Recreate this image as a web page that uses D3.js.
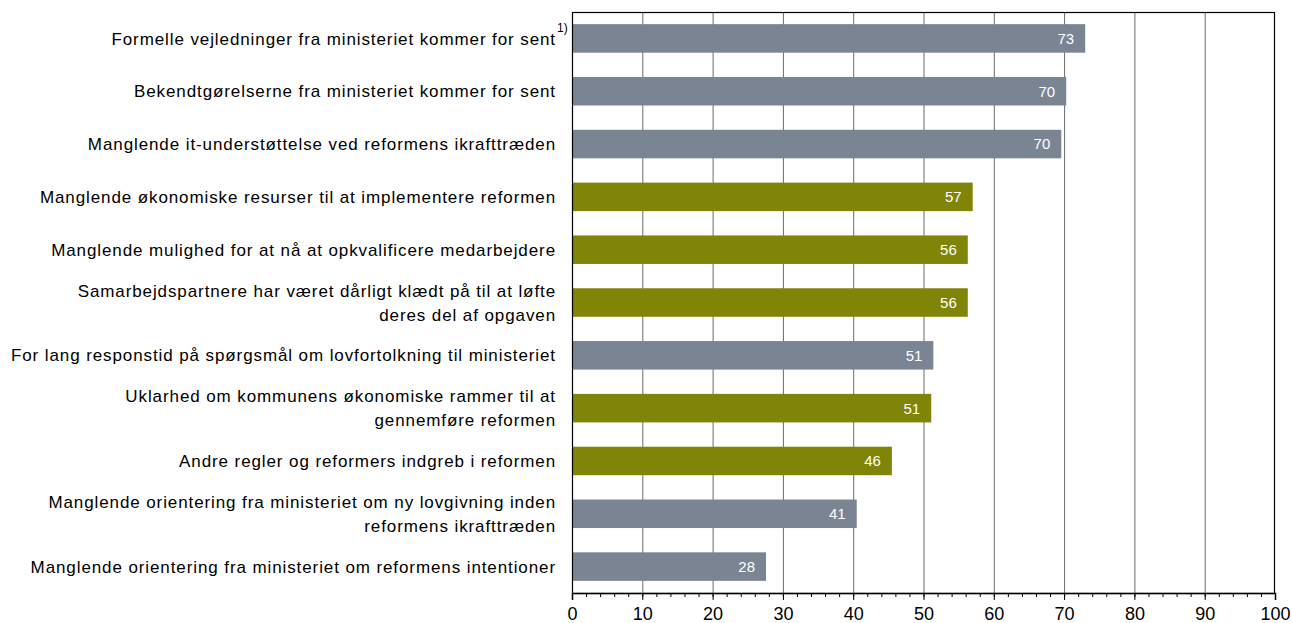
<!DOCTYPE html>
<html><head><meta charset="utf-8">
<script src="https://cdn.jsdelivr.net/npm/d3@7"></script>
<style>body{margin:0;background:#fff;} text{font-family:"Liberation Sans",Arial,sans-serif;}</style>
</head><body><svg id="c" width="1292" height="623"></svg>
<script>
const categories = [
  ["Formelle vejledninger fra ministeriet kommer for sent"],
  ["Bekendtgørelserne fra ministeriet kommer for sent"],
  ["Manglende it-understøttelse ved reformens ikrafttræden"],
  ["Manglende økonomiske resurser til at implementere reformen"],
  ["Manglende mulighed for at nå at opkvalificere medarbejdere"],
  ["Samarbejdspartnere har været dårligt klædt på til at løfte", "deres del af opgaven"],
  ["For lang responstid på spørgsmål om lovfortolkning til ministeriet"],
  ["Uklarhed om kommunens økonomiske rammer til at", "gennemføre reformen"],
  ["Andre regler og reformers indgreb i reformen"],
  ["Manglende orientering fra ministeriet om ny lovgivning inden", "reformens ikrafttræden"],
  ["Manglende orientering fra ministeriet om reformens intentioner"]
];
const values = [73.0, 70.3, 69.6, 57.0, 56.3, 56.3, 51.4, 51.1, 45.5, 40.5, 27.6];
const valueLabels = ["73", "70", "70", "57", "56", "56", "51", "51", "46", "41", "28"];
const groups = ["a", "a", "a", "b", "b", "b", "a", "b", "b", "a", "a"];
const footnotes = ["1)", "", "", "", "", "", "", "", "", "", ""];
const xTicks = [0, 10, 20, 30, 40, 50, 60, 70, 80, 90, 100];
const minorTicks = d3.range(0, 101, 2);

const colors = {a: "#7b8493", b: "#808507"};
const svg = d3.select("#c");
const L = 572, R = 1275, T = 12, B = 593;
const x = d3.scaleLinear().domain([0, 100]).range([L, R]);
const y = d3.scaleBand().domain(d3.range(values.length)).range([T, B]).paddingInner(0.46).paddingOuter(0.23);

// gridlines
svg.append("g").selectAll("line").data(xTicks.slice(1, -1)).join("line")
  .attr("x1", d => x(d) + 0.5).attr("x2", d => x(d) + 0.5)
  .attr("y1", T).attr("y2", B).attr("stroke", "#6a6a6a").attr("stroke-width", 1);

// bars
svg.append("g").selectAll("rect").data(values).join("rect")
  .attr("x", x(0)).attr("y", (d, i) => y(i))
  .attr("width", d => x(d) - x(0)).attr("height", y.bandwidth())
  .attr("fill", (d, i) => colors[groups[i]]);

// value labels
svg.append("g").selectAll("text").data(values).join("text")
  .attr("x", d => x(d) - 11).attr("y", (d, i) => y(i) + y.bandwidth() / 2)
  .attr("dy", "0.36em").attr("text-anchor", "end").attr("fill", "#fff")
  .attr("font-size", 15).text((d, i) => valueLabels[i]);

// frame
svg.append("rect").attr("x", L + 0.5).attr("y", T + 0.5).attr("width", R - L - 1).attr("height", B - T)
  .attr("fill", "none").attr("stroke", "#000").attr("stroke-width", 1.2);

// x axis
const ax = svg.append("g").attr("transform", `translate(0,${B})`)
  .call(d3.axisBottom(x).tickValues(xTicks).tickSize(7).tickPadding(7).tickFormat(d3.format("d")));
ax.select(".domain").attr("stroke", "#000").attr("stroke-width", 1.5);
ax.selectAll(".tick line").attr("stroke", "#000");
ax.selectAll("text").attr("font-size", 18).attr("fill", "#000").attr("font-family", '"Liberation Sans",Arial,sans-serif');
svg.append("g").selectAll("line").data(minorTicks).join("line")
  .attr("x1", d => x(d) + 0.5).attr("x2", d => x(d) + 0.5)
  .attr("y1", B).attr("y2", B + 4).attr("stroke", "#000");

// category labels
const lab = svg.append("g").selectAll("text").data(categories).join("text")
  .attr("text-anchor", "end").attr("font-size", 17).attr("letter-spacing", 0.9).attr("fill", "#000")
  .attr("transform", (d, i) => `translate(556,${y(i) + y.bandwidth() / 2})`);
lab.each(function(d) {
  const n = d.length;
  d3.select(this).selectAll("tspan").data(d).join("tspan")
    .attr("x", 0).attr("y", (s, j) => (j - (n - 1) / 2) * 24).attr("dy", "0.36em").text(s => s);
});
svg.append("g").selectAll("text").data(footnotes).join("text")
  .attr("x", 557).attr("y", (d, i) => y(i) + y.bandwidth() / 2 - 6)
  .attr("font-size", 12).attr("fill", "#000").text(d => d);
</script></body></html>
